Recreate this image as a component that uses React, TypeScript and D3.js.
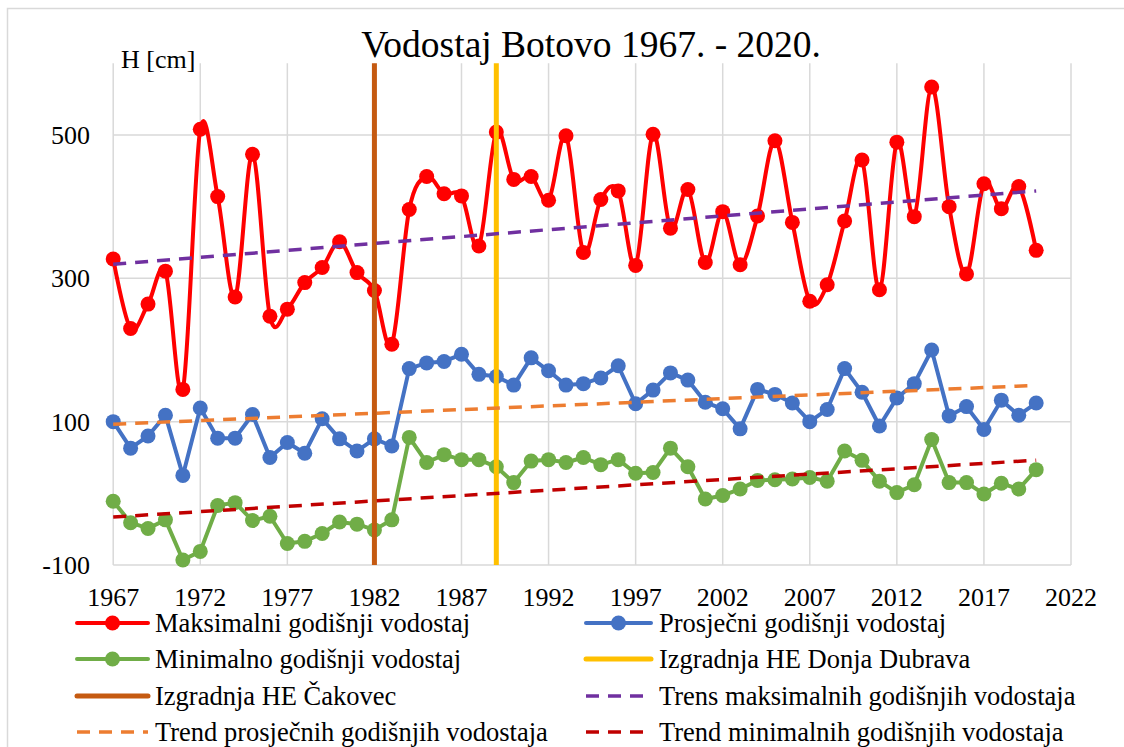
import React from "react";
import * as d3 from "d3";

const years: number[] = d3.range(1967, 2021);
const maxLevels: number[] = [
  327, 230, 264, 310, 145, 508, 414, 274, 473, 247,
  257, 294, 315, 351, 308, 283, 208, 396, 442, 418,
  415, 345, 504, 438, 442, 409, 499, 336, 410, 422,
  318, 501, 370, 424, 322, 393, 319, 387, 492, 378,
  268, 291, 380, 465, 284, 490, 386, 567, 400, 306,
  432, 397, 428, 339,
];
const avgLevels: number[] = [
  100, 63, 80, 109, 25, 119, 77, 77, 110, 50,
  71, 56, 104, 76, 59, 76, 66, 174, 182, 184,
  194, 166, 163, 151, 189, 171, 151, 153, 161, 178,
  125, 144, 168, 158, 127, 118, 90, 145, 138, 126,
  100, 117, 174, 141, 94, 133, 153, 200, 108, 121,
  89, 130, 109, 126,
];
const minLevels: number[] = [
  -11, -41, -49, -37, -93, -81, -17, -13, -38, -32,
  -70, -67, -56, -40, -43, -51, -37, 78, 43, 54,
  47, 47, 37, 15, 45, 47, 43, 50, 40, 47,
  28, 29, 63, 37, -8, -3, 6, 18, 19, 20,
  22, 17, 59, 46, 17, 1, 12, 75, 15, 15,
  -1, 14, 6, 33,
];
const xTicks: number[] = d3.range(1967, 2023, 5);
const yTicks: number[] = [-100, 100, 300, 500];
const eventYears = { cakovec: 1982, dubrava: 1989 };

const title = "Vodostaj Botovo 1967. - 2020.";
const yAxisTitle = "H [cm]";

const legendItems = [
  { label: "Maksimalni godišnji vodostaj", color: "#FF0000", kind: "marker" },
  { label: "Prosječni godišnji vodostaj", color: "#4472C4", kind: "marker" },
  { label: "Minimalno godišnji vodostaj", color: "#70AD47", kind: "marker" },
  { label: "Izgradnja HE Donja Dubrava", color: "#FFC000", kind: "solid" },
  { label: "Izgradnja HE Čakovec", color: "#C55A11", kind: "solid" },
  { label: "Trens maksimalnih godišnjih vodostaja", color: "#7030A0", kind: "dash" },
  { label: "Trend prosječnih godišnjih vodostaja", color: "#ED7D31", kind: "dash" },
  { label: "Trend minimalnih godišnjih vodostaja", color: "#C00000", kind: "dash" },
];

function linReg(xs: number[], ys: number[]) {
  const mx = d3.mean(xs) as number;
  const my = d3.mean(ys) as number;
  let num = 0;
  let den = 0;
  xs.forEach((x, i) => {
    num += (x - mx) * (ys[i] - my);
    den += (x - mx) * (x - mx);
  });
  const b = num / den;
  const a = my - b * mx;
  return (x: number) => a + b * x;
}

const FONT = "'Liberation Serif', 'Times New Roman', serif";

export default function App() {
  const W = 1124;
  const H = 747;
  const x = d3.scaleLinear().domain([1967, 2022]).range([113.2, 1071]);
  const y = d3.scaleLinear().domain([-100, 600]).range([565, 63.3]);

  const straight = d3
    .line<[number, number]>()
    .x((d) => x(d[0]))
    .y((d) => y(d[1]));
  const smooth = d3
    .line<[number, number]>()
    .x((d) => x(d[0]))
    .y((d) => y(d[1]))
    .curve(d3.curveCardinal.tension(0));

  const series = [
    { data: maxLevels, color: "#FF0000", gen: smooth },
    { data: avgLevels, color: "#4472C4", gen: straight },
    { data: minLevels, color: "#70AD47", gen: straight },
  ];
  const trends = [
    { data: maxLevels, color: "#7030A0" },
    { data: avgLevels, color: "#ED7D31" },
    { data: minLevels, color: "#C00000" },
  ];
  const x0 = years[0];
  const x1 = years[years.length - 1];

  const legendRows = [623, 659, 696, 732];
  const legendCols = [
    { lineStart: 77, lineEnd: 148, textX: 155 },
    { lineStart: 586, lineEnd: 651, textX: 659 },
  ];

  return (
    <svg
      width={W}
      height={H}
      style={{ position: "absolute", left: 0, top: 0, background: "#fff" }}
      fontFamily={FONT}
    >
      <rect x={0} y={0} width={W} height={H} fill="#fff" />
      <rect x={7.5} y={8.5} width={W + 20} height={H + 20} fill="none" stroke="#D9D9D9" strokeWidth={1.5} />

      {/* gridlines */}
      {xTicks.map((t) => (
        <line key={"gx" + t} x1={x(t)} x2={x(t)} y1={y(600)} y2={y(-100)} stroke="#D9D9D9" strokeWidth={1.5} />
      ))}
      {yTicks.map((t) => (
        <line key={"gy" + t} x1={x(1967)} x2={x(2022)} y1={y(t)} y2={y(t)} stroke="#D9D9D9" strokeWidth={1.5} />
      ))}

      {/* axis labels */}
      {xTicks.map((t) => (
        <text key={"tx" + t} x={x(t)} y={606} textAnchor="middle" fontSize={26} fill="#000">
          {t}
        </text>
      ))}
      {yTicks.map((t) => (
        <text key={"ty" + t} x={90} y={y(t)} dy="0.35em" textAnchor="end" fontSize={26} fill="#000">
          {t}
        </text>
      ))}
      <text x={121} y={68} fontSize={26} fill="#000">
        {yAxisTitle}
      </text>
      <text x={591} y={57} textAnchor="middle" fontSize={37.5} fill="#000">
        {title}
      </text>

      {/* data series */}
      {series.map((s, si) => {
        const pts: [number, number][] = years.map((yr, i) => [yr, s.data[i]]);
        return (
          <g key={"s" + si}>
            <path d={s.gen(pts) || ""} fill="none" stroke={s.color} strokeWidth={4} strokeLinejoin="round" />
            {pts.map((p, i) => (
              <circle key={i} cx={x(p[0])} cy={y(p[1])} r={7.5} fill={s.color} />
            ))}
          </g>
        );
      })}

      {/* event lines */}
      <line x1={x(eventYears.dubrava)} x2={x(eventYears.dubrava)} y1={y(600)} y2={y(-100)} stroke="#FFC000" strokeWidth={5} />
      <line x1={x(eventYears.cakovec)} x2={x(eventYears.cakovec)} y1={y(600)} y2={y(-100)} stroke="#C55A11" strokeWidth={5} />

      {/* trends */}
      {trends.map((t, ti) => {
        const f = linReg(years, t.data);
        const pts: [number, number][] = [
          [x0, f(x0)],
          [x1, f(x1)],
        ];
        return (
          <path key={"t" + ti} d={straight(pts) || ""} fill="none" stroke={t.color} strokeWidth={3.5} strokeDasharray="13 9" />
        );
      })}

      {/* legend */}
      {legendItems.map((item, i) => {
        const col = legendCols[i % 2];
        const cy = legendRows[Math.floor(i / 2)];
        const mid = (col.lineStart + col.lineEnd) / 2;
        return (
          <g key={"l" + i}>
            {item.kind === "dash" ? (
              <line x1={col.lineStart} x2={col.lineEnd} y1={cy} y2={cy} stroke={item.color} strokeWidth={3.5} strokeDasharray="13 9" />
            ) : (
              <line
                x1={col.lineStart}
                x2={col.lineEnd}
                y1={cy}
                y2={cy}
                stroke={item.color}
                strokeWidth={item.kind === "solid" ? 5 : 4}
                strokeLinecap="round"
              />
            )}
            {item.kind === "marker" && <circle cx={mid} cy={cy} r={7.5} fill={item.color} />}
            <text x={col.textX} y={cy} dy="0.35em" fontSize={26.5} fill="#000">
              {item.label}
            </text>
          </g>
        );
      })}
    </svg>
  );
}
